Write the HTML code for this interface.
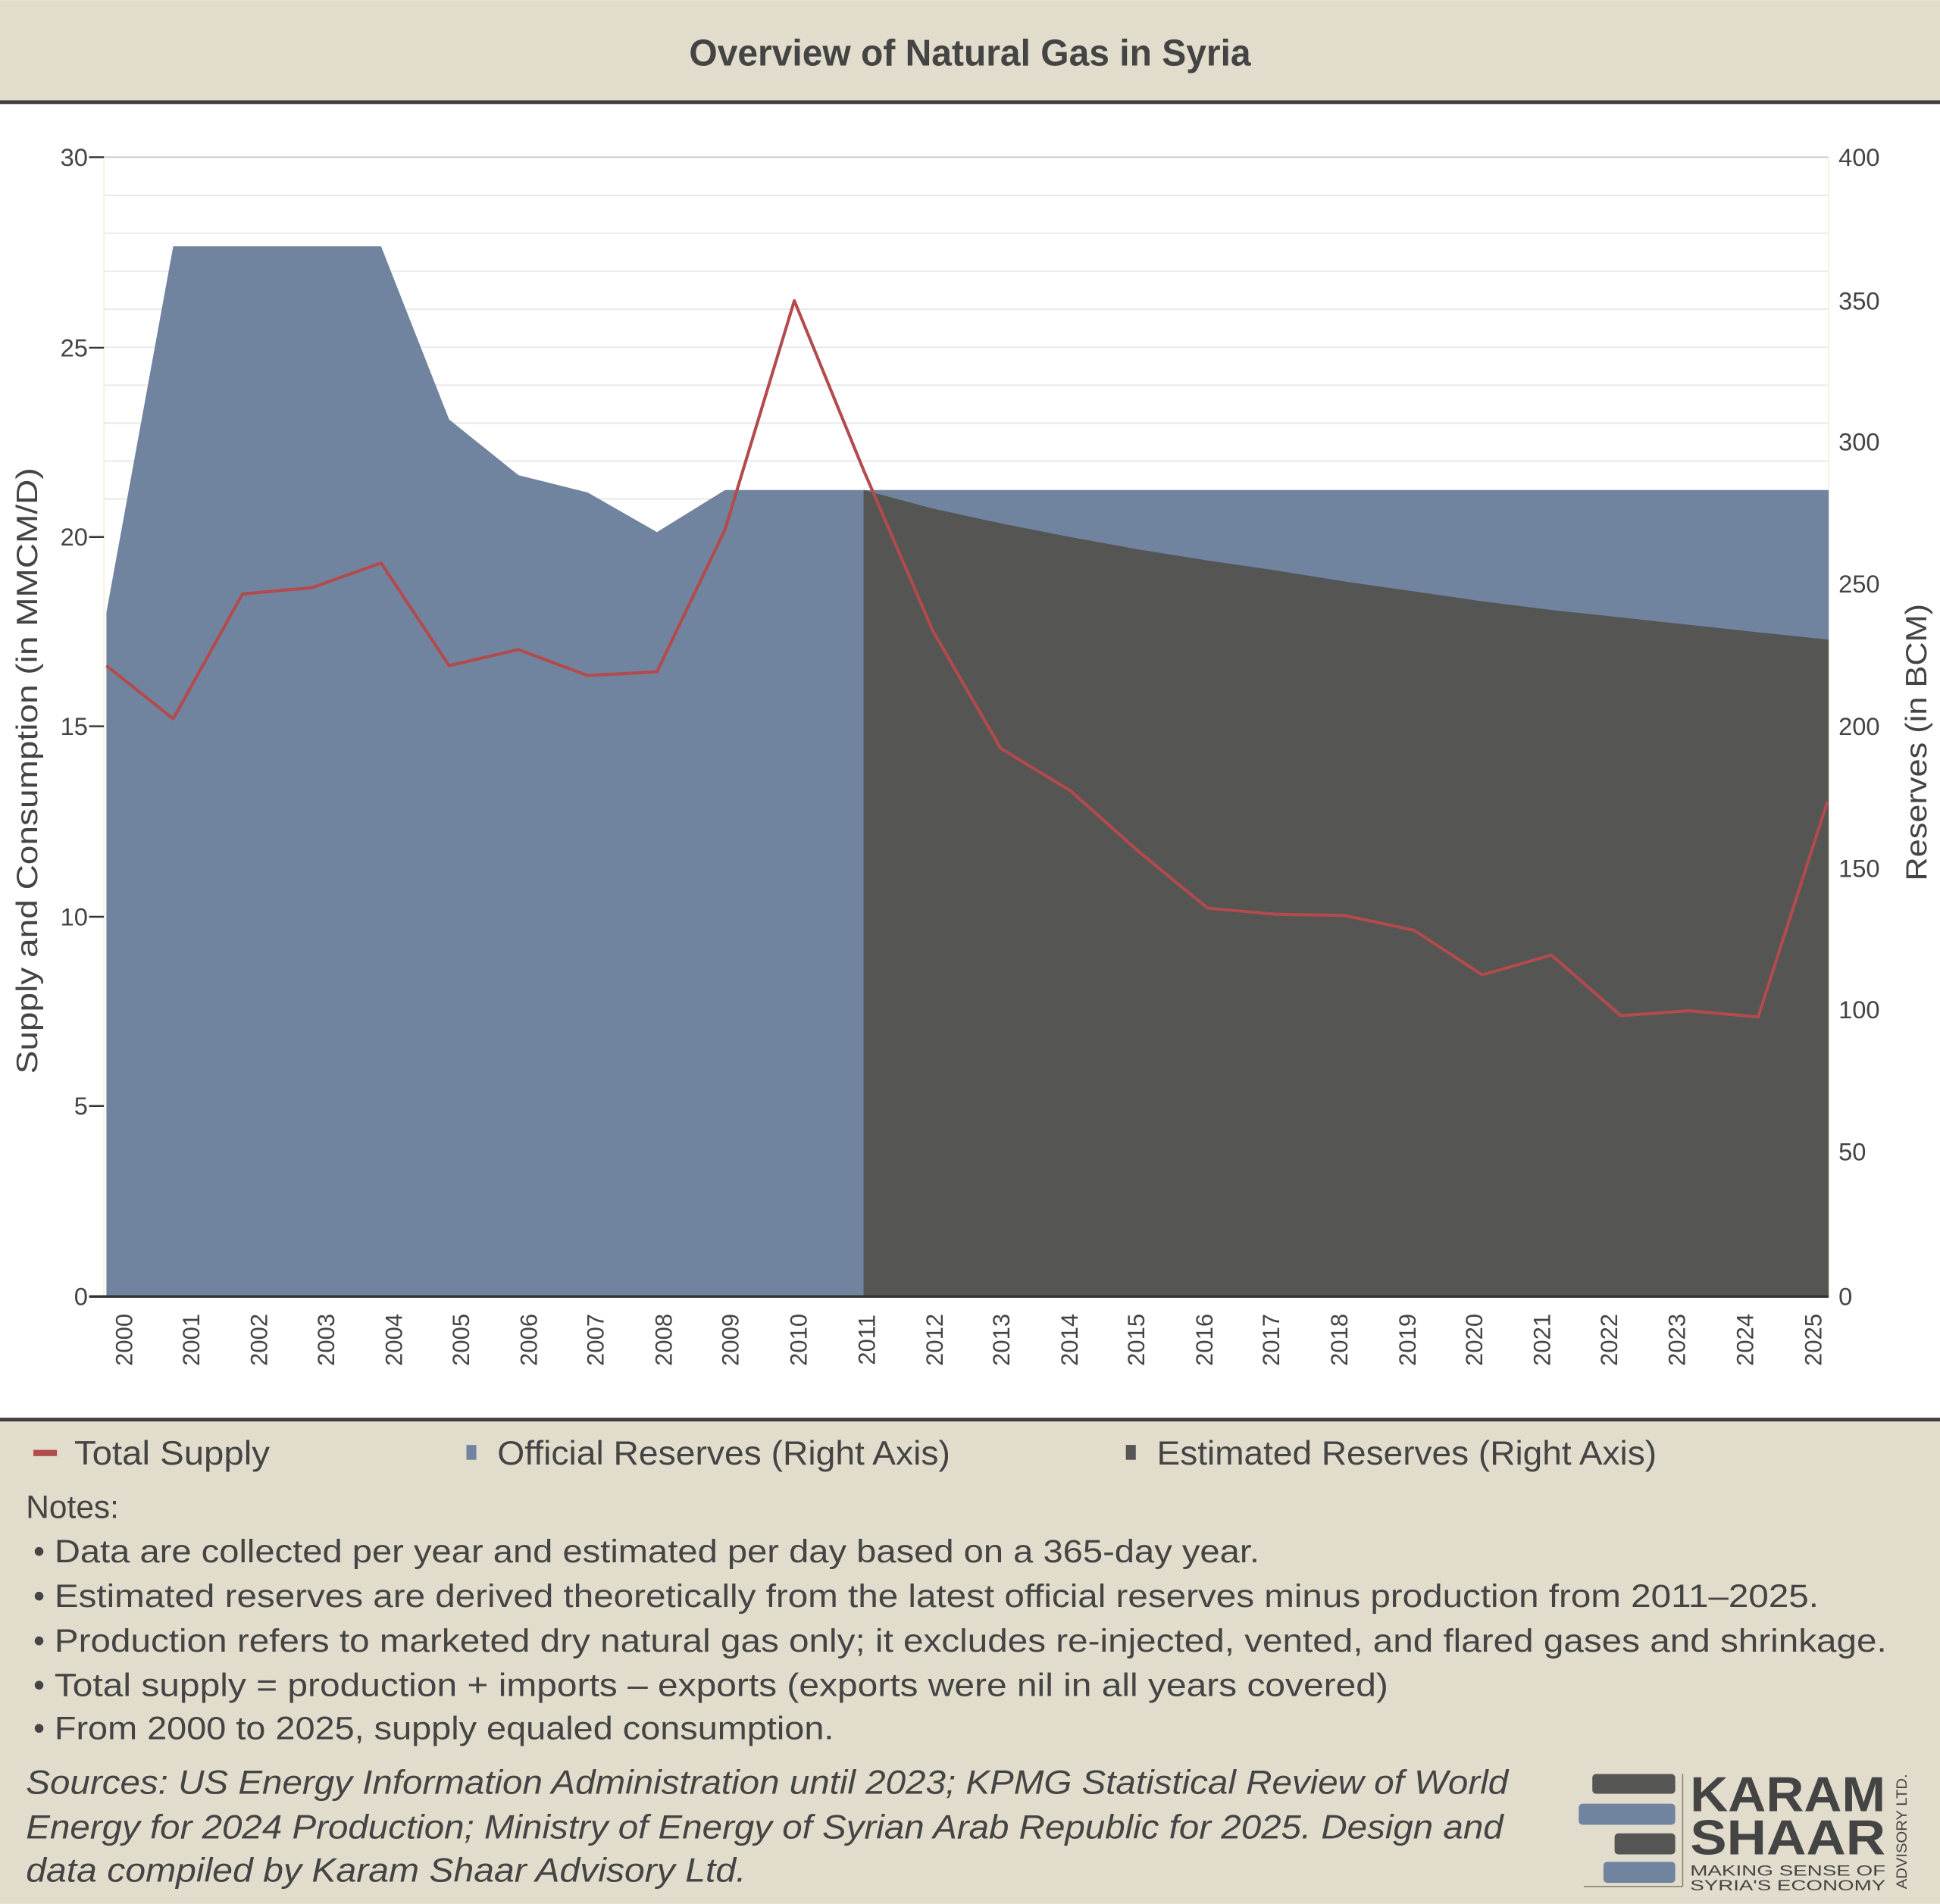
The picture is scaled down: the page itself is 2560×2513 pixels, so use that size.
<!DOCTYPE html>
<html><head><meta charset="utf-8"><style>
html,body{margin:0;padding:0;background:#fff}
svg{display:block}
text{font-family:"Liberation Sans",sans-serif;fill:#444}
</style></head><body>
<svg width="2560" height="2513" viewBox="0 0 1568 1539" xmlns="http://www.w3.org/2000/svg">
<rect x="0" y="0" width="1568" height="81" fill="#e1dccb"/>
<rect x="0" y="81" width="1568" height="3" fill="#3f3f3f"/>
<text x="784" y="53" text-anchor="middle" font-size="30" font-weight="bold" textLength="454" lengthAdjust="spacingAndGlyphs" style="font-family:'Liberation Sans Narrow','Liberation Sans',sans-serif" fill="#4a4a4a">Overview of Natural Gas in Syria</text>

<g stroke="#e6e6e6" stroke-width="1">
<line x1="84" x2="1478" y1="127" y2="127" stroke="#d4d4d4" stroke-width="1.5"/>
<line x1="84" x2="1478" y1="157.7" y2="157.7"/><line x1="84" x2="1478" y1="188.4" y2="188.4"/>
<line x1="84" x2="1478" y1="219.1" y2="219.1"/><line x1="84" x2="1478" y1="249.8" y2="249.8"/>
<line x1="84" x2="1478" y1="280.5" y2="280.5"/><line x1="84" x2="1478" y1="311.2" y2="311.2"/>
<line x1="84" x2="1478" y1="341.9" y2="341.9"/><line x1="84" x2="1478" y1="372.6" y2="372.6"/>
<line x1="84" x2="1478" y1="403.3" y2="403.3"/>
</g>
<line x1="84" x2="84" y1="127" y2="1048" stroke="#f3efd8"/>
<line x1="1478" x2="1478" y1="127" y2="1048" stroke="#f3efd8"/>

<polygon fill="#71849f" points="86,1048 86,495 140,199 308,199 363,339 419,384 475,398 531,430 586,396 1478,396 1478,1048"/>
<polygon fill="#555553" points="698,1048 698,396 754,411 809,423 865,434 920,444 976,453 1031,461 1087,470 1143,478 1198,486 1254,493 1310,499 1365,505 1421,511 1478,517 1478,1048"/>
<polyline fill="none" stroke="#b34a4c" stroke-width="2.5" stroke-linejoin="round" points="86,538 140,581 196,480 252,475 308,455 363,538 419,525 475,546 531,543 586,428 642,243 698,380 754,510 809,605 865,639 920,688 976,734 1031,739 1087,740 1143,752 1198,788 1254,772 1310,821 1365,817 1421,822 1477,648"/>

<line x1="72" x2="1478" y1="1048" y2="1048" stroke="#333" stroke-width="2"/>
<g stroke="#333" stroke-width="1.5">
<line x1="72" x2="84" y1="127" y2="127"/><line x1="72" x2="84" y1="281" y2="281"/><line x1="72" x2="84" y1="434" y2="434"/>
<line x1="72" x2="84" y1="587" y2="587"/><line x1="72" x2="84" y1="741" y2="741"/><line x1="72" x2="84" y1="894" y2="894"/>
</g>
<g font-size="20" text-anchor="end">
<text x="71" y="134">30</text><text x="71" y="288">25</text><text x="71" y="441">20</text>
<text x="71" y="594">15</text><text x="71" y="748">10</text><text x="71" y="901">5</text><text x="71" y="1055">0</text>
</g>
<g font-size="20">
<text x="1486" y="134">400</text><text x="1486" y="250">350</text><text x="1486" y="364">300</text>
<text x="1486" y="479">250</text><text x="1486" y="594">200</text><text x="1486" y="709">150</text>
<text x="1486" y="823">100</text><text x="1486" y="938">50</text><text x="1486" y="1055">0</text>
</g>
<text transform="translate(30,623) rotate(-90)" text-anchor="middle" font-size="24" textLength="490" lengthAdjust="spacingAndGlyphs">Supply and Consumption (in MMCM/D)</text>
<text transform="translate(1557,600) rotate(-90)" text-anchor="middle" font-size="24" textLength="224" lengthAdjust="spacingAndGlyphs">Reserves (in BCM)</text>

<g font-size="19" text-anchor="middle">
<text transform="translate(107,1083) rotate(-90)">2000</text>
<text transform="translate(161,1083) rotate(-90)">2001</text>
<text transform="translate(216,1083) rotate(-90)">2002</text>
<text transform="translate(270,1083) rotate(-90)">2003</text>
<text transform="translate(325,1083) rotate(-90)">2004</text>
<text transform="translate(379,1083) rotate(-90)">2005</text>
<text transform="translate(434,1083) rotate(-90)">2006</text>
<text transform="translate(488,1083) rotate(-90)">2007</text>
<text transform="translate(543,1083) rotate(-90)">2008</text>
<text transform="translate(597,1083) rotate(-90)">2009</text>
<text transform="translate(652,1083) rotate(-90)">2010</text>
<text transform="translate(707,1083) rotate(-90)">2011</text>
<text transform="translate(762,1083) rotate(-90)">2012</text>
<text transform="translate(816,1083) rotate(-90)">2013</text>
<text transform="translate(871,1083) rotate(-90)">2014</text>
<text transform="translate(925,1083) rotate(-90)">2015</text>
<text transform="translate(980,1083) rotate(-90)">2016</text>
<text transform="translate(1034,1083) rotate(-90)">2017</text>
<text transform="translate(1089,1083) rotate(-90)">2018</text>
<text transform="translate(1144,1083) rotate(-90)">2019</text>
<text transform="translate(1198,1083) rotate(-90)">2020</text>
<text transform="translate(1253,1083) rotate(-90)">2021</text>
<text transform="translate(1307,1083) rotate(-90)">2022</text>
<text transform="translate(1362,1083) rotate(-90)">2023</text>
<text transform="translate(1417,1083) rotate(-90)">2024</text>
<text transform="translate(1472,1083) rotate(-90)">2025</text>
</g>

<rect x="0" y="1147" width="1568" height="392" fill="#e1dccb"/>
<rect x="0" y="1146" width="1568" height="3" fill="#3f3f3f"/>
<rect x="27" y="1172" width="19" height="5" fill="#b34a4c"/>
<text x="60" y="1184" font-size="27" textLength="158" lengthAdjust="spacingAndGlyphs">Total Supply</text>
<rect x="377" y="1168" width="8" height="12" fill="#71849f"/>
<text x="402" y="1184" font-size="27" textLength="366" lengthAdjust="spacingAndGlyphs">Official Reserves (Right Axis)</text>
<rect x="910" y="1168" width="8" height="12" fill="#555553"/>
<text x="935" y="1184" font-size="27" textLength="404" lengthAdjust="spacingAndGlyphs">Estimated Reserves (Right Axis)</text>

<g font-size="26">
<text x="21" y="1227">Notes:</text>
<text x="27" y="1263">•</text><text x="44" y="1263" textLength="974" lengthAdjust="spacingAndGlyphs">Data are collected per year and estimated per day based on a 365-day year.</text>
<text x="27" y="1299">•</text><text x="44" y="1299" textLength="1426" lengthAdjust="spacingAndGlyphs">Estimated reserves are derived theoretically from the latest official reserves minus production from 2011–2025.</text>
<text x="27" y="1335">•</text><text x="44" y="1335" textLength="1481" lengthAdjust="spacingAndGlyphs">Production refers to marketed dry natural gas only; it excludes re-injected, vented, and flared gases and shrinkage.</text>
<text x="27" y="1371">•</text><text x="44" y="1371" textLength="1078" lengthAdjust="spacingAndGlyphs">Total supply = production + imports – exports (exports were nil in all years covered)</text>
<text x="27" y="1406">•</text><text x="44" y="1406" textLength="630" lengthAdjust="spacingAndGlyphs">From 2000 to 2025, supply equaled consumption.</text>
</g>
<g font-size="27" font-style="italic">
<text x="21" y="1450" textLength="1198" lengthAdjust="spacingAndGlyphs">Sources: US Energy Information Administration until 2023; KPMG Statistical Review of World</text>
<text x="21" y="1486" textLength="1194" lengthAdjust="spacingAndGlyphs">Energy for 2024 Production; Ministry of Energy of Syrian Arab Republic for 2025. Design and</text>
<text x="21" y="1521" textLength="582" lengthAdjust="spacingAndGlyphs">data compiled by Karam Shaar Advisory Ltd.</text>
</g>

<rect x="1287" y="1434" width="67" height="16" rx="3" fill="#555553"/>
<rect x="1276" y="1458" width="78" height="17" rx="3" fill="#71849f"/>
<rect x="1305" y="1482" width="49" height="17" rx="3" fill="#555553"/>
<rect x="1296" y="1505" width="58" height="17" rx="3" fill="#71849f"/>
<line x1="1360" y1="1434" x2="1360" y2="1525" stroke="#8a8478"/>
<line x1="1280" y1="1525" x2="1360" y2="1525" stroke="#8a8478"/>
<text x="1366" y="1464" font-size="40" font-weight="bold" textLength="158" lengthAdjust="spacingAndGlyphs" fill="#555553">KARAM</text>
<text x="1366" y="1499" font-size="40" font-weight="bold" textLength="158" lengthAdjust="spacingAndGlyphs" fill="#555553">SHAAR</text>
<text x="1366" y="1516" font-size="12" textLength="158" lengthAdjust="spacingAndGlyphs" fill="#555553">MAKING SENSE OF</text>
<text x="1366" y="1528" font-size="12" textLength="158" lengthAdjust="spacingAndGlyphs" fill="#555553">SYRIA'S ECONOMY</text>
<text transform="translate(1541,1527) rotate(-90)" font-size="12" textLength="93" lengthAdjust="spacingAndGlyphs" fill="#71849f">ADVISORY LTD.</text>
</svg>
</body></html>
